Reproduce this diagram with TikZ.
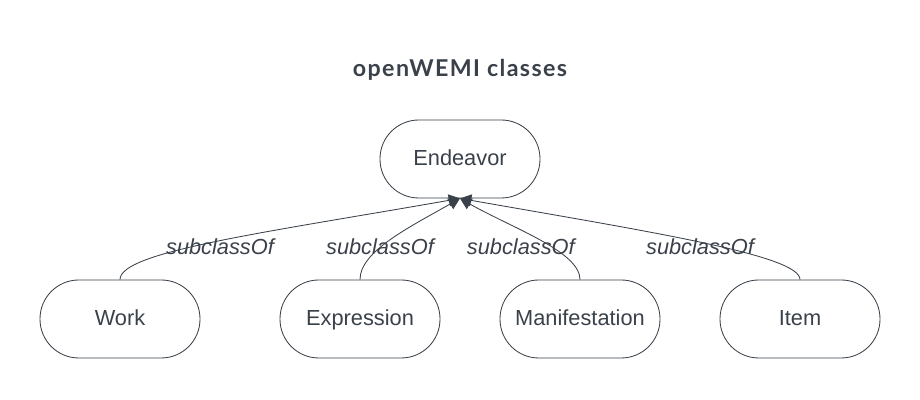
\documentclass[tikz,border=0pt]{standalone}
\usepackage{fontspec}
\setmainfont{Liberation Sans}
\newfontfamily\titlefont[LetterSpace=6]{Lato}
\usetikzlibrary{arrows.meta}
\definecolor{ink}{HTML}{3A414A}

\begin{document}
\begin{tikzpicture}[
    cls/.style={draw=ink,line width=0.6pt,text=ink,minimum width=4cm,minimum height=1.95cm,
                rounded corners=0.97cm,text height=1.9ex,text depth=0.15ex,
                font=\fontsize{15.5}{18}\selectfont},
    sub/.style={draw=ink,line width=0.6pt,-{Triangle[width=8.5pt,length=8pt]}},
    lbl/.style={text=ink,font=\fontsize{15.5}{18}\selectfont\itshape,inner sep=0pt}]
       \useasboundingbox(0,0)rectangle(23,10);%枠
       \node[text=ink,font=\titlefont\bfseries\fontsize{16.5}{20}\selectfont](title)at(11.5,8.25){openWEMI classes};%タイトル

       \node[cls](endeavor)at(11.5,6.025){Endeavor};%上位クラス
       \node[cls](work)at(3,2.025){Work};
       \node[cls](expression)at(9,2.025){Expression};
       \node[cls](manifestation)at(14.5,2.025){Manifestation};
       \node[cls](item)at(20,2.025){Item};

       \draw[sub](work.north)..controls +(0,0.7) and (6.6,4.18)..(endeavor.south);
       \draw[sub](expression.north)..controls +(0,0.7) and (10.2,4.3)..(endeavor.south);
       \draw[sub](manifestation.north)..controls +(0,0.7) and (12.8,4.3)..(endeavor.south);
       \draw[sub](item.north)..controls +(0,0.6) and (16.4,4.18)..(endeavor.south);

       \node[lbl](l1)at(5.5,3.825){subclassOf};%ラベル
       \node[lbl](l2)at(9.5,3.825){subclassOf};
       \node[lbl](l3)at(13.02,3.825){subclassOf};
       \node[lbl](l4)at(17.5,3.825){subclassOf};
      \end{tikzpicture}
\end{document}
